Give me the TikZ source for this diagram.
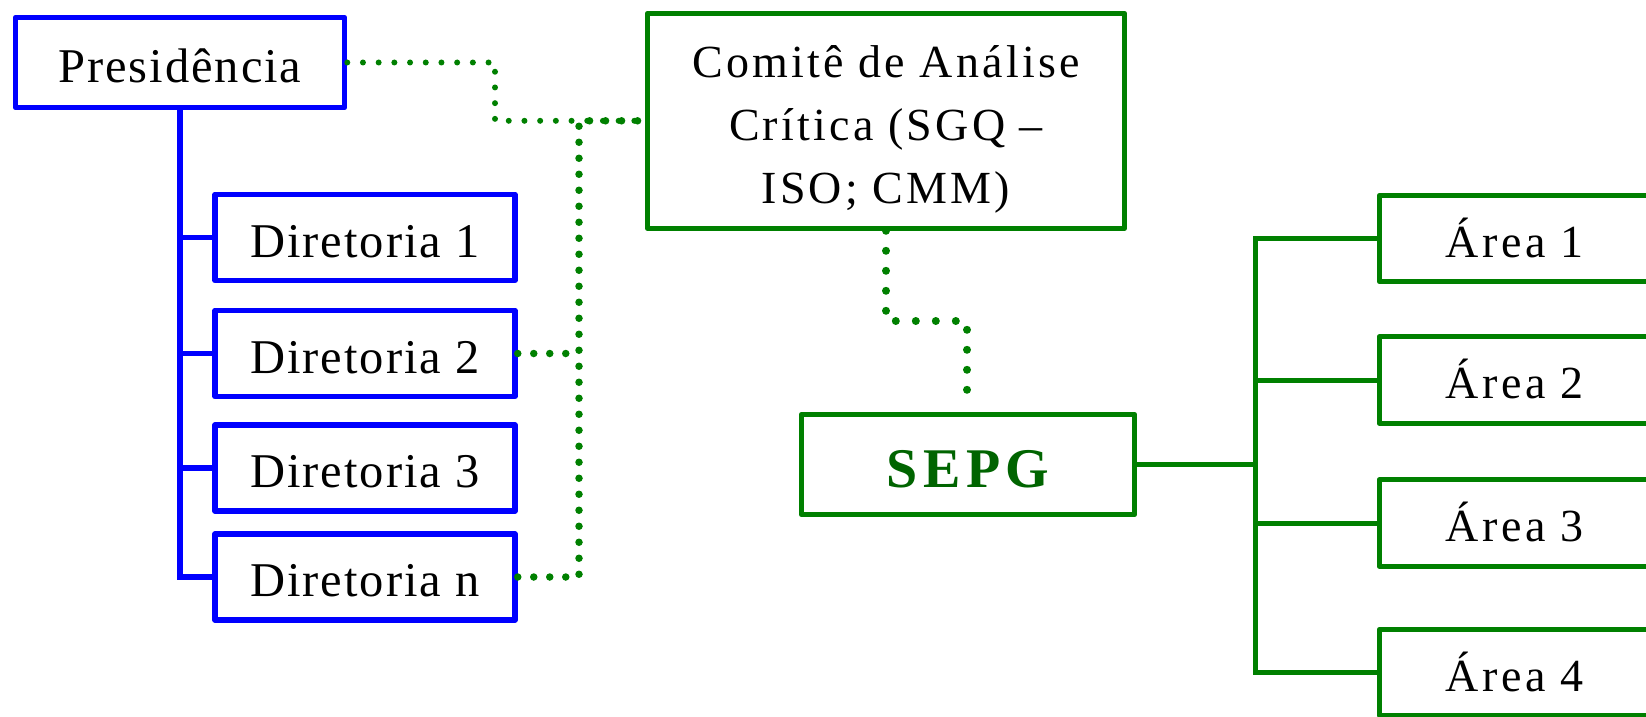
\documentclass[tikz,border=0pt]{standalone}
\usepackage{fontspec}
\setmainfont{Liberation Serif}
\newfontfamily\fA[LetterSpace=4]{Liberation Serif}
\newfontfamily\fC[LetterSpace=7]{Liberation Serif}
\newfontfamily\fR[LetterSpace=8]{Liberation Serif}
\newfontfamily\fS[LetterSpace=10]{Liberation Serif}
\definecolor{bl}{RGB}{0,0,255}
\definecolor{gr}{RGB}{0,128,0}
\definecolor{gtext}{RGB}{0,100,0}
\tikzset{
  bluebox/.style={draw=bl, line width=5.5pt, line join=round, inner sep=0pt, fill=white,
    font=\fA\fontsize{48.5}{56}\selectfont, text height=39pt, text depth=0pt},
  dirbox/.style={bluebox, minimum width=300pt, minimum height=86pt},
  greenbox/.style={draw=gr, line width=5pt, line join=round, inner sep=0pt, fill=white},
  areabox/.style={greenbox, minimum width=270.5pt, minimum height=86.5pt,
    font=\fR\fontsize{46}{52}\selectfont, text height=37pt, text depth=0pt},
  blueline/.style={draw=bl, line width=5.5pt},
  greenline/.style={draw=gr, line width=5pt},
  dotA/.style={draw=gr, line width=6pt, line cap=round, dash pattern=on 0pt off 15.7pt},
  dotB/.style={draw=gr, line width=7.5pt, line cap=round, dash pattern=on 0pt off 16pt},
  dotC/.style={draw=gr, line width=8pt, line cap=round, dash pattern=on 0pt off 20pt},
}
\begin{document}
\begin{tikzpicture}[x=1pt, y=-1pt]
\useasboundingbox (0,0) rectangle (1646,717);
\clip (0,0) rectangle (1646,717);
% blue hierarchy
\node[bluebox, minimum width=329pt, minimum height=90pt] (pres) at (180,62.5) {Presidência};
\node[dirbox] (d1) at (365,237.5) {Diretoria 1};
\node[dirbox] (d2) at (365,353.5) {Diretoria 2};
\node[dirbox] (d3) at (365,468) {Diretoria 3};
\node[dirbox] (dn) at (365,577) {Diretoria n};
\draw[blueline] (pres.south) -- (pres.south |- dn.west) -- (dn.west);
\draw[blueline] (pres.south |- d1.west) -- (d1.west);
\draw[blueline] (pres.south |- d2.west) -- (d2.west);
\draw[blueline] (pres.south |- d3.west) -- (d3.west);
% committee
\node[greenbox, minimum width=477pt, minimum height=215pt, align=center,
  font=\fC\fontsize{46}{63}\selectfont] (com) at (886,120.8)
  {\rule{0pt}{49pt}Comitê de Análise\\Crítica (SGQ –\\ISO; CMM)};
% SEPG
\node[greenbox, minimum width=333.5pt, minimum height=100.5pt,
  font=\fS\bfseries\fontsize{56}{64}\selectfont, text=gtext, text height=45pt, text depth=0pt]
  (sepg) at (968,464.5) {SEPG};
% areas
\node[areabox] (a1) at (1514.5,238.5) {Área 1};
\node[areabox] (a2) at (1514.5,380) {Área 2};
\node[areabox] (a3) at (1514.5,523) {Área 3};
\node[areabox] (a4) at (1514.5,672.5) {Área 4};
\coordinate (tr) at (1255,0);
\draw[greenline] (sepg.east) -- (sepg.east -| tr);
\draw[greenline] (a1.west) -- (a1.west -| tr) -- (a4.west -| tr) -- (a4.west);
\draw[greenline] (a2.west -| tr) -- (a2.west);
\draw[greenline] (a3.west -| tr) -- (a3.west);
% dotted links
\coordinate (pa) at (495,0);
\coordinate (jx) at (579,120.8);
\coordinate (c1) at (967,321);
\coordinate (cend) at (967,390);
\draw[dotA] (pres.east) -- (pres.east -| pa) |- (com.west);
\draw[dotB] (dn.east) -| (jx) -- (com.west);
\draw[dotB] (d2.east) -- (d2.east -| jx);
\draw[dotC] (com.south) |- (c1) -- (cend);
\end{tikzpicture}
\end{document}
